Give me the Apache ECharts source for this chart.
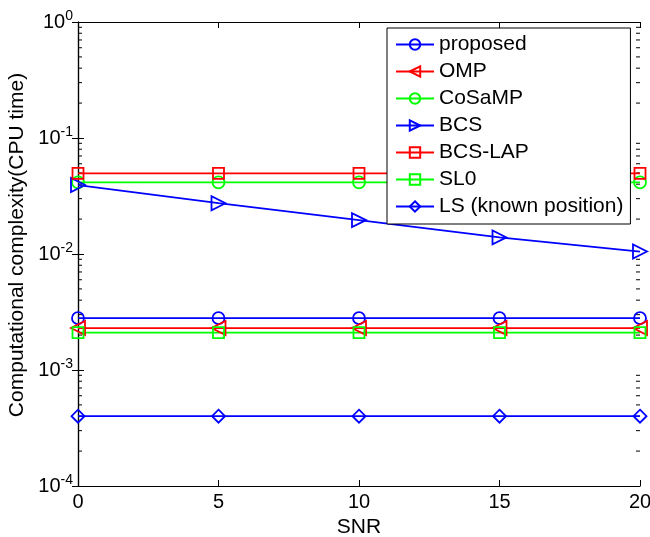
<!DOCTYPE html>
<html>
<head>
<meta charset="utf-8">
<script src="https://cdn.jsdelivr.net/npm/echarts@6/dist/echarts.min.js"></script>
<style>
  html, body { margin: 0; padding: 0; background: #fff; }
  #chart { width: 650px; height: 537px; }
</style>
</head>
<body>
<div id="chart"></div>
<script>
// data
var snr = [0, 5, 10, 15, 20];
var proposed = [0.0028, 0.0028, 0.0028, 0.0028, 0.0028];
var omp = [0.0023, 0.0023, 0.0023, 0.0023, 0.0023];
var cosamp = [0.0415, 0.0415, 0.0415, 0.0415, 0.0415];
var bcs = [0.0393, 0.0274, 0.0196, 0.0139, 0.0105];
var bcsLap = [0.0496, 0.0496, 0.0496, 0.0496, 0.0496];
var sl0 = [0.0021, 0.0021, 0.0021, 0.0021, 0.0021];
var lsKnown = [0.0004, 0.0004, 0.0004, 0.0004, 0.0004];

var yMin = 1e-4, yMax = 1;
var font = '"Liberation Sans", Arial, sans-serif';

function pairs(ys) {
  return snr.map(function (x, i) { return [x, ys[i]]; });
}

// minor ticks 2..9 x 10^k for the log axis
var minorVals = [];
for (var k = -4; k < 0; k++) {
  for (var m = 2; m <= 9; m++) minorVals.push([m * Math.pow(10, k)]);
}

function mkSeries(name, ys, color, symbol, rot) {
  var size = 12;
  if (symbol === 'rect') size = 11;
  if (symbol === 'triangle') size = 14;
  if (symbol === 'diamond') size = 13;
  return {
    name: name,
    type: 'line',
    data: pairs(ys),
    symbol: symbol,
    symbolSize: size,
    symbolRotate: rot || 0,
    clip: false,
    lineStyle: { color: color, width: 1.8 },
    itemStyle: { color: 'rgba(0,0,0,0)', borderColor: color, borderWidth: 1.8 },
    emphasis: { disabled: true },
    animation: false
  };
}

var chart = echarts.init(document.getElementById('chart'), null, { renderer: 'canvas' });

var supLabel = {
  formatter: function (v) {
    var e = Math.round(Math.log10(v));
    return '{b|10}{s|' + e + '}';
  },
  margin: 5,
  rich: {
    b: { fontSize: 20, fontFamily: font, color: '#000' },
    s: { fontSize: 14, fontFamily: font, color: '#000', padding: [0, 0, 12, 0] }
  }
};

var option = {
  backgroundColor: '#fff',
  animation: false,
  grid: { left: 78, right: 10, top: 22, bottom: 51, outerBoundsMode: 'none', containLabel: false },
  legend: {
    orient: 'vertical',
    left: 387,
    top: 28,
    backgroundColor: '#fff',
    borderColor: '#000',
    borderWidth: 1,
    borderRadius: 0,
    padding: [6, 7, 7, 8],
    itemWidth: 38,
    itemHeight: 13,
    itemGap: 6,
    textStyle: { fontSize: 21, lineHeight: 21, fontFamily: font, color: '#000' },
    data: ['proposed', 'OMP', 'CoSaMP', 'BCS', 'BCS-LAP', 'SL0', 'LS (known position)']
  },
  xAxis: [{
    type: 'value',
    min: 0, max: 20, interval: 5,
    name: 'SNR',
    nameLocation: 'middle',
    nameGap: 26,
    nameTextStyle: { fontSize: 21, fontFamily: font, color: '#000' },
    axisLine: { lineStyle: { color: '#000', width: 1.2 } },
    axisTick: { inside: true, length: 6, lineStyle: { color: '#000' } },
    axisLabel: { fontSize: 20, fontFamily: font, color: '#000', margin: 6 },
    splitLine: { show: false }
  }, {
    type: 'value',
    position: 'top',
    min: 0, max: 20, interval: 5,
    axisLine: { show: true, lineStyle: { color: '#000', width: 1.2 } },
    axisTick: { inside: true, length: 6, lineStyle: { color: '#000' } },
    axisLabel: { show: false },
    splitLine: { show: false }
  }],
  yAxis: [{
    type: 'log',
    logBase: 10,
    min: yMin, max: yMax,
    name: 'Computational complexity(CPU time)',
    nameLocation: 'middle',
    nameGap: 50,
    nameTextStyle: { fontSize: 21, fontFamily: font, color: '#000', padding: [0, 0, 0, 18] },
    axisLine: { show: true, lineStyle: { color: '#000', width: 1.2 } },
    axisTick: { inside: true, length: 6, lineStyle: { color: '#000' } },
    axisLabel: supLabel,
    splitLine: { show: false }
  }, {
    type: 'log',
    logBase: 10,
    position: 'right',
    min: yMin, max: yMax,
    axisLine: { show: true, lineStyle: { color: '#000', width: 1.2 } },
    axisTick: { inside: true, length: 6, lineStyle: { color: '#000' } },
    axisLabel: { show: false },
    splitLine: { show: false }
  }],
  series: [
    {
      type: 'custom',
      silent: true,
      clip: false,
      data: minorVals,
      encode: { y: 0 },
      renderItem: function (params, api) {
        var v = api.value(0);
        var l = api.coord([0, v]);
        var r = api.coord([20, v]);
        return {
          type: 'group',
          children: [
            { type: 'line', shape: { x1: l[0], y1: l[1], x2: l[0] + 4, y2: l[1] }, style: { stroke: '#000', lineWidth: 1 } },
            { type: 'line', shape: { x1: r[0], y1: r[1], x2: r[0] - 4, y2: r[1] }, style: { stroke: '#000', lineWidth: 1 } }
          ]
        };
      }
    },
    mkSeries('proposed', proposed, '#0000ff', 'circle'),
    mkSeries('OMP', omp, '#ff0000', 'triangle', 90),
    mkSeries('CoSaMP', cosamp, '#00ff00', 'circle'),
    mkSeries('BCS', bcs, '#0000ff', 'triangle', -90),
    mkSeries('BCS-LAP', bcsLap, '#ff0000', 'rect'),
    mkSeries('SL0', sl0, '#00ff00', 'rect'),
    mkSeries('LS (known position)', lsKnown, '#0000ff', 'diamond')
  ]
};

chart.setOption(option);
</script>
</body>
</html>
